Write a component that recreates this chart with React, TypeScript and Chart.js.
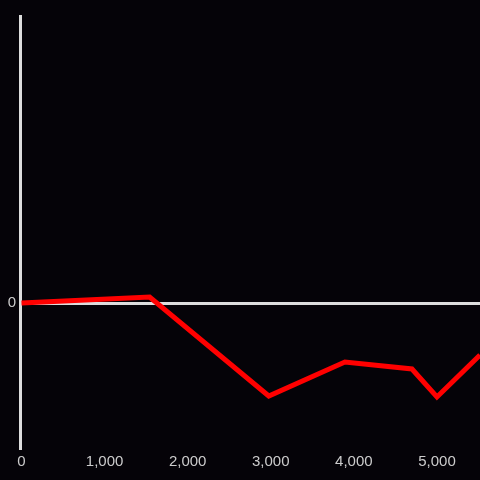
import React, { useEffect, useRef } from "react";
import { Chart, registerables } from "chart.js";

Chart.register(...registerables);

const xValues = [0, 1542, 2976, 3892, 4699, 5000, 5518];
const yValues = [0, 12, -186, -118, -132, -188, -104];
const xTickValues = [0, 1000, 2000, 3000, 4000, 5000];
const yTickValues = [0];

const X_MIN = -18;
const X_MAX = 5518;
const Y_MIN = -290;
const Y_MAX = 574;

export default function App() {
  const ref = useRef<HTMLCanvasElement | null>(null);
  useEffect(() => {
    document.body.style.margin = "0";
    const ctx = ref.current!;
    const chart = new Chart(ctx, {
      type: "line",
      data: {
        datasets: [
          {
            data: xValues.map((x, i) => ({ x, y: yValues[i] })),
            borderColor: "#ff0000",
            borderWidth: 5,
            pointRadius: 0,
            tension: 0,
            fill: false,
          },
        ],
      },
      options: {
        animation: false,
        responsive: false,
        maintainAspectRatio: false,
        layout: { padding: { top: 16, right: 0, left: 0, bottom: 0 } },
        plugins: { legend: { display: false }, tooltip: { enabled: false } },
        scales: {
          x: {
            type: "linear",
            min: X_MIN,
            max: X_MAX,
            grid: { display: false, drawTicks: false },
            border: { display: false },
            afterBuildTicks: (s: any) => {
              s.ticks = xTickValues.map((v) => ({ value: v }));
            },
            afterFit: (s: any) => {
              s.height = 32;
            },
            ticks: {
              color: "#cccccc",
              padding: 5,
              maxRotation: 0,
              autoSkip: false,
              font: { family: "Liberation Sans, Arial, sans-serif", size: 15 },
              callback: (v: any) => Number(v).toLocaleString("en-US"),
            },
          },
          y: {
            type: "linear",
            min: Y_MIN,
            max: Y_MAX,
            grid: {
              color: "#dddddd",
              lineWidth: 3,
              drawTicks: false,
            },
            border: { display: true, color: "#dddddd", width: 3 },
            afterBuildTicks: (s: any) => {
              s.ticks = yTickValues.map((v) => ({ value: v }));
            },
            afterFit: (s: any) => {
              s.width = 20;
            },
            ticks: {
              color: "#cccccc",
              padding: 4,
              font: { family: "Liberation Sans, Arial, sans-serif", size: 15 },
              callback: (v: any) => Number(v).toLocaleString("en-US"),
            },
          },
        },
      },
    });
    return () => chart.destroy();
  }, []);
  return (
    <div style={{ position: "fixed", left: 0, top: 0, width: 480, height: 480, background: "#050308" }}>
      <canvas ref={ref} width={480} height={480} style={{ display: "block" }} />
    </div>
  );
}
